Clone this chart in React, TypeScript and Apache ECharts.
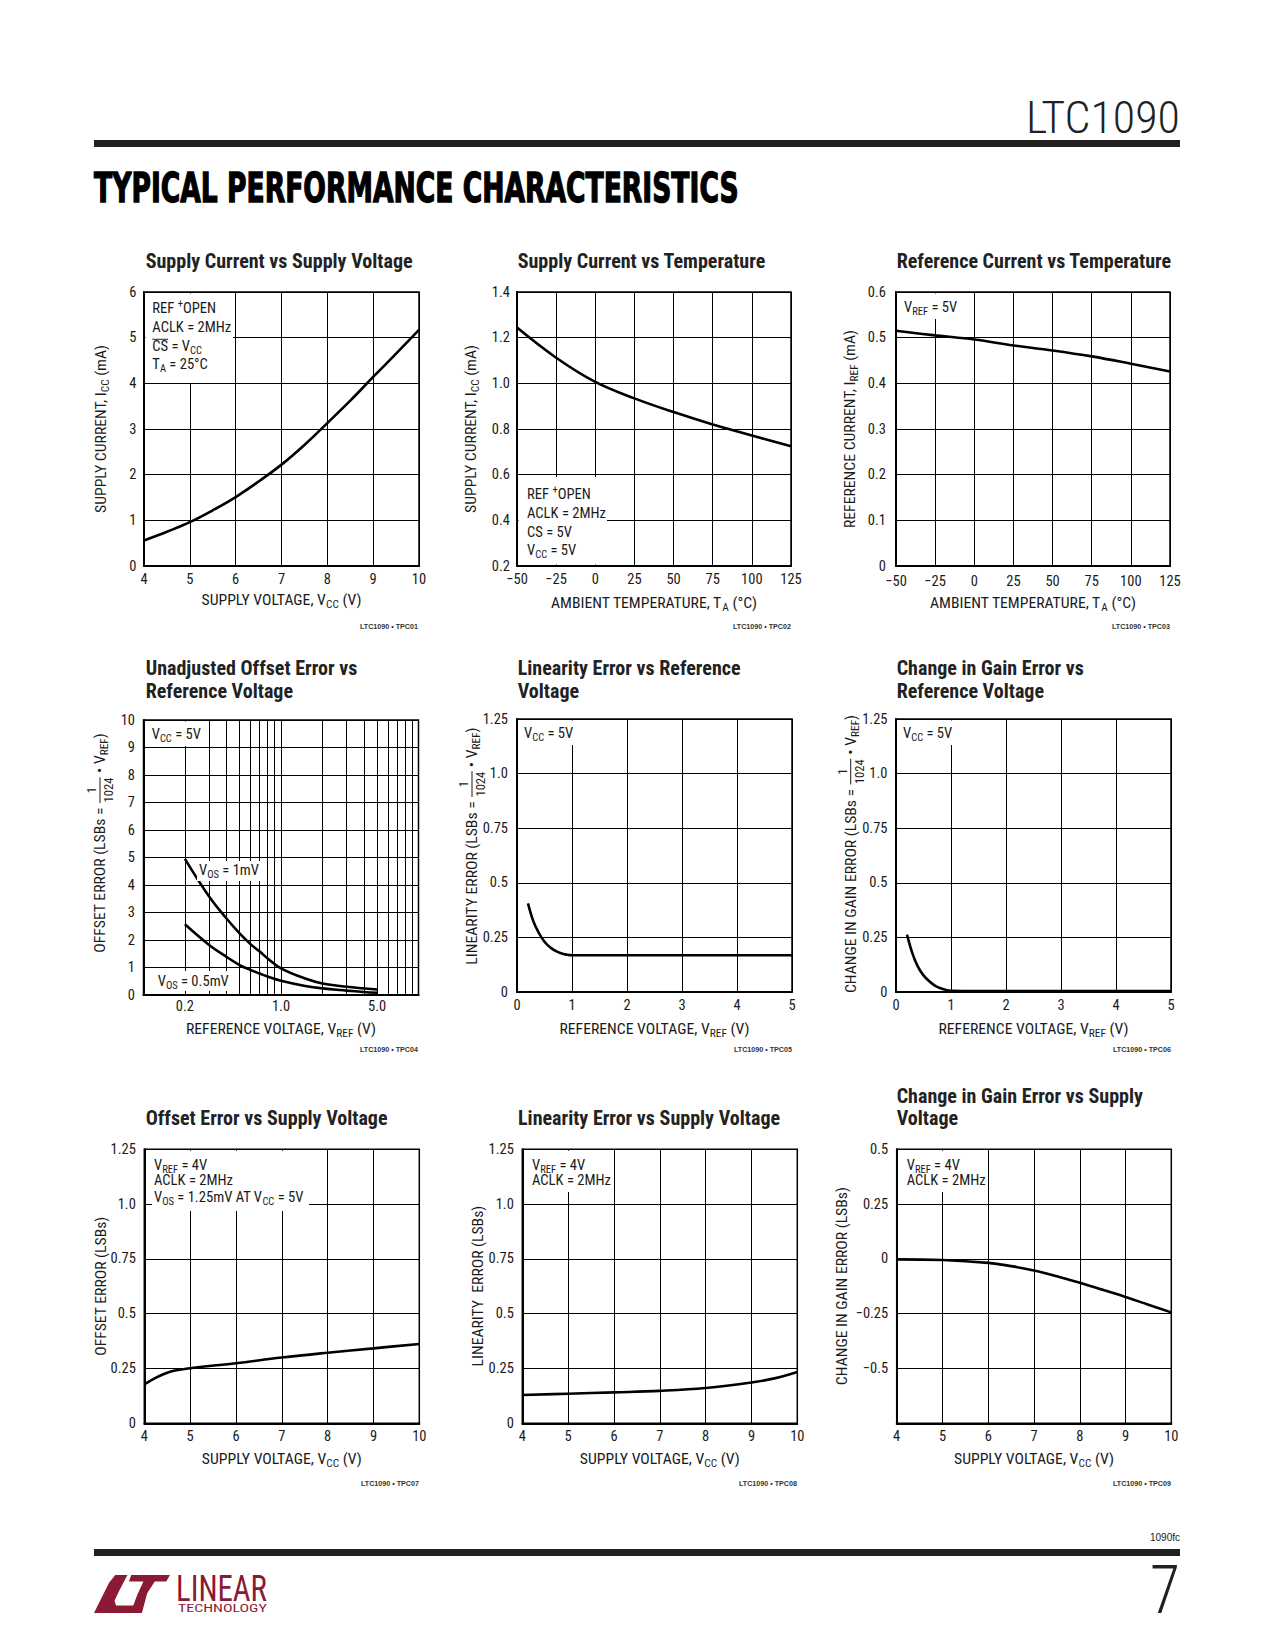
import React, { useEffect, useRef } from 'react';
import * as echarts from 'echarts';

// ===== Data =====
// 1. Supply Current vs Supply Voltage
const sccVoltage = [4, 4.5, 5, 5.5, 6, 6.5, 7, 7.5, 8, 8.5, 9, 9.5, 10];
const sccCurrent = [0.56, 0.75, 0.96, 1.22, 1.51, 1.85, 2.22, 2.65, 3.13, 3.62, 4.14, 4.65, 5.17];
// 2. Supply Current vs Temperature
const sctTemp = [-50, -25, 0, 25, 50, 75, 100, 125];
const sctCurrent = [1.244, 1.112, 1.006, 0.934, 0.874, 0.82, 0.772, 0.724];
// 3. Reference Current vs Temperature
const rctTemp = [-50, -25, 0, 25, 50, 75, 100, 125];
const rctCurrent = [0.515, 0.505, 0.496, 0.483, 0.472, 0.459, 0.443, 0.426];
// 4. Unadjusted Offset Error vs Reference Voltage
const offVref = [0.2, 0.3, 0.4, 0.5, 0.6, 0.7, 0.8, 1, 1.5, 2, 3, 4, 5];
const offErr1mV = [4.95, 3.58, 2.79, 2.24, 1.85, 1.58, 1.33, 0.97, 0.6, 0.42, 0.3, 0.24, 0.2];
const offErr05mV = [2.57, 1.82, 1.39, 1.09, 0.91, 0.78, 0.67, 0.52, 0.33, 0.24, 0.16, 0.11, 0.08];
const offLogGrid = [0.2, 0.3, 0.4, 0.5, 0.6, 0.7, 0.8, 0.9, 2, 3, 4, 5, 6, 7, 8, 9];
const offLogTicks = [0.2, 1, 5];
const offLogTickLabels = ['0.2', '1.0', '5.0'];
// 5. Linearity Error vs Reference Voltage
const linVref = [0.2, 0.3, 0.4, 0.5, 0.6, 0.7, 0.8, 0.9, 1, 2, 3, 4, 5];
const linErr = [0.406, 0.322, 0.269, 0.23, 0.205, 0.188, 0.177, 0.171, 0.168, 0.168, 0.168, 0.168, 0.168];
// 6. Change in Gain Error vs Reference Voltage
const gainVref = [0.2, 0.3, 0.4, 0.5, 0.6, 0.7, 0.8, 0.9, 1, 2, 3, 4, 5];
const gainErr = [0.263, 0.176, 0.115, 0.076, 0.05, 0.03, 0.018, 0.01, 0.006, 0.004, 0.004, 0.004, 0.004];
// 7. Offset Error vs Supply Voltage
const offVcc = [4, 4.5, 5, 6, 7, 8, 9, 10];
const offVccErr = [0.178, 0.231, 0.251, 0.274, 0.3, 0.322, 0.342, 0.362];
// 8. Linearity Error vs Supply Voltage
const linVcc = [4, 5, 6, 7, 8, 9, 9.5, 10];
const linVccErr = [0.129, 0.135, 0.141, 0.148, 0.161, 0.186, 0.205, 0.234];
// 9. Change in Gain Error vs Supply Voltage
const gainVcc = [4, 5, 6, 6.5, 7, 7.5, 8, 8.5, 9, 9.5, 10];
const gainVccErr = [-0.002, -0.005, -0.018, -0.033, -0.053, -0.079, -0.109, -0.141, -0.174, -0.209, -0.244];

const zip = (xs: number[], ys: number[]) => xs.map((x, i) => [x, ys[i]]);

// ===== Layout =====
const GRIDS = [
  { l: 144, t: 292, w: 275, h: 274 },
  { l: 517, t: 292, w: 274, h: 274 },
  { l: 896, t: 292, w: 274, h: 274 },
  { l: 143.5, t: 720, w: 275, h: 275 },
  { l: 517, t: 719, w: 275, h: 273 },
  { l: 896, t: 719, w: 275, h: 273 },
  { l: 144.3, t: 1149.3, w: 275, h: 274 },
  { l: 522.3, t: 1149.3, w: 275, h: 274 },
  { l: 896.7, t: 1149.3, w: 274.6, h: 274 },
];
const Y_LABEL_MARGIN = [7.5, 7, 10, 8.5, 9, 8.5, 8.5, 8.5, 8.5];
const X_LABEL_MARGIN = [7, 7, 8.5, 7, 7, 7, 7, 7, 7];

type Seg = { t: string; k?: 'sub' | 'sup' | 'over' | 'frac'; d?: string };

function buildOption() {
  const cv = document.createElement('canvas').getContext('2d') as CanvasRenderingContext2D;
  const has = (name: string) => {
    const s = 'abcdefghijklmnopqrstuvwxyzABCDEFGHIJ0123456789';
    cv.font = '40px monospace';
    const a = cv.measureText(s).width;
    cv.font = `40px "${name}", monospace`;
    const b = cv.measureText(s).width;
    cv.font = '40px serif';
    const c = cv.measureText(s).width;
    cv.font = `40px "${name}", serif`;
    const d = cv.measureText(s).width;
    return a !== b || c !== d;
  };
  const narrow = ['Liberation Sans Narrow', 'Arial Narrow', 'Roboto Condensed', 'Nimbus Sans Narrow', 'DejaVu Sans Condensed'].find(has);
  const FAM = narrow ? `"${narrow}", "Liberation Sans", Arial, sans-serif` : `"Liberation Sans", Arial, sans-serif`;
  const HEAVY = `"DejaVu Sans", "Liberation Sans", sans-serif`;
  const mw = (t: string, size: number, weight: any, fam: string) => {
    cv.font = `normal ${weight} ${size}px ${fam}`;
    return cv.measureText(t).width;
  };
  const clamp = (v: number) => Math.max(0.55, Math.min(1.25, v));
  const BODY = 15;
  const BSX = clamp(79 / mw('ACLK = 2MHz', BODY, 'normal', FAM));
  const NAME = 15.5;
  const NSX = BSX * 1.04;
  const TSIZE = 19.5;
  const TSX = clamp(267 / mw('Supply Current vs Supply Voltage', TSIZE, 'bold', FAM));
  const INK = '#1a1a1a';

  const txt = (x: number, y: number, segs: Seg[], o: any) => {
    const size = o.size;
    const wt = o.weight ?? 'normal';
    const fam = o.fam ?? FAM;
    const fill = o.fill ?? INK;
    const z = o.z ?? 10;
    const items = segs.map((s) => {
      if (s.k === 'frac') {
        const fs = size * 0.8;
        return { ...s, fs, w: Math.max(mw(s.t, fs, wt, fam), mw(s.d || '', fs, wt, fam)) + 2 };
      }
      const fs = s.k === 'sub' || s.k === 'sup' ? size * 0.72 : size;
      return { ...s, fs, w: mw(s.t, fs, wt, fam) };
    });
    const total = items.reduce((a, b) => a + b.w, 0);
    let cx = o.align === 'center' ? -total / 2 : o.align === 'right' ? -total : 0;
    const children: any[] = [];
    const T = (tx: number, ty: number, t: string, fs: number, al = 'left') => ({
      type: 'text', x: tx, y: ty, z, silent: true,
      style: {
        text: t, fontSize: fs, fontFamily: fam, fontWeight: wt, fill, textAlign: al, textVerticalAlign: 'middle', align: al, verticalAlign: 'middle',
        ...(o.stroke ? { stroke: fill, lineWidth: o.stroke } : {}),
      },
    });
    for (const it of items) {
      if (it.k === 'frac') {
        children.push(T(cx + it.w / 2, -size * 0.52, it.t, it.fs, 'center'));
        children.push(T(cx + it.w / 2, size * 0.56, it.d || '', it.fs, 'center'));
        children.push({ type: 'line', z, silent: true, shape: { x1: cx + 0.5, y1: 0, x2: cx + it.w - 0.5, y2: 0 }, style: { stroke: fill, lineWidth: 1 } });
      } else {
        const dy = it.k === 'sub' ? size * 0.32 : it.k === 'sup' ? -size * 0.3 : 0;
        children.push(T(cx, dy, it.t, it.fs));
        if (it.k === 'over') {
          children.push({ type: 'line', z, silent: true, shape: { x1: cx, y1: -size * 0.45, x2: cx + it.w, y2: -size * 0.45 }, style: { stroke: fill, lineWidth: 1 } });
        }
      }
      cx += it.w;
    }
    return { type: 'group', x, y, rotation: o.rot ?? 0, scaleX: o.sx ?? 1, z, children };
  };
  const box = (x1: number, y1: number, x2: number, y2: number) => ({
    type: 'rect', z: 5, silent: true, shape: { x: x1, y: y1, width: x2 - x1, height: y2 - y1 }, style: { fill: '#fff' },
  });
  const body = (x: number, y: number, segs: Seg[]) => txt(x, y, segs, { size: BODY, sx: BSX });
  const S = (t: string): Seg => ({ t });
  const sub = (t: string): Seg => ({ t, k: 'sub' });

  const els: any[] = [];
  // ---- header ----
  els.push(txt(1180, 118, [S('LTC1090')], { size: 44, weight: 300, align: 'right', fill: '#231f20', sx: clamp(154 / mw('LTC1090', 44, 300, FAM)) }));
  els.push({ type: 'rect', z: 10, silent: true, shape: { x: 94, y: 140, width: 1086, height: 7 }, style: { fill: '#231f20' } });
  els.push(txt(94, 188, [S('TYPICAL PERFORMANCE CHARACTERISTICS')], { size: 40, weight: 'bold', fam: HEAVY, fill: '#000', stroke: 1.4, sx: 645 / mw('TYPICAL PERFORMANCE CHARACTERISTICS', 40, 'bold', HEAVY) }));
  // ---- footer ----
  els.push(txt(1180, 1537, [S('1090fc')], { size: 10, align: 'right', fam: `"Liberation Sans", Arial, sans-serif` }));
  els.push({ type: 'rect', z: 10, silent: true, shape: { x: 94, y: 1549, width: 1086, height: 7 }, style: { fill: '#231f20' } });
  els.push(txt(1180, 1591, [S('7')], { size: 66, weight: 300, align: 'right', fill: '#231f20', sx: clamp(30 / mw('7', 66, 300, FAM)) }));
  // logo
  const LR = '#8b1a35';
  const lx = 94, ly = 1575, lw = 76, lh = 38;
  const P = (pts: number[][]) => ({ type: 'polygon', z: 10, silent: true, shape: { points: pts.map(([u, v]) => [lx + u * lw, ly + v * lh]) }, style: { fill: LR } });
  els.push(P([[0.28, 0], [0.44, 0], [0.33, 0.42], [0.27, 0.68], [0.29, 0.8], [0.56, 0.8], [0.52, 1], [0, 1], [0.1, 0.6], [0.2, 0.2]]));
  els.push(P([[0.49, 0], [1, 0], [0.95, 0.17], [0.8, 0.17], [0.7, 0.48], [0.63, 1], [0.48, 1], [0.57, 0.52], [0.65, 0.17], [0.46, 0.17]]));
  els.push(txt(176, 1589, [S('LINEAR')], { size: 36, fill: LR, sx: 91 / mw('LINEAR', 36, 'normal', FAM) }));
  els.push(txt(178, 1608, [S('TECHNOLOGY')], { size: 11.5, fill: LR, sx: 89 / mw('TECHNOLOGY', 11.5, 'normal', FAM) }));

  // ---- chart titles ----
  const title = (x: number, y: number, t: string) => els.push(txt(x, y, [S(t)], { size: TSIZE, weight: 'bold', sx: TSX, fill: '#222' }));
  title(145.7, 262, 'Supply Current vs Supply Voltage');
  title(517.7, 262, 'Supply Current vs Temperature');
  title(896.7, 262, 'Reference Current vs Temperature');
  title(145.7, 669, 'Unadjusted Offset Error vs');
  title(145.7, 692, 'Reference Voltage');
  title(517.7, 669, 'Linearity Error vs Reference');
  title(517.7, 692, 'Voltage');
  title(896.7, 669, 'Change in Gain Error vs');
  title(896.7, 692, 'Reference Voltage');
  title(145.7, 1119, 'Offset Error vs Supply Voltage');
  title(518, 1119, 'Linearity Error vs Supply Voltage');
  title(896.7, 1097, 'Change in Gain Error vs Supply');
  title(896.7, 1119, 'Voltage');

  // ---- footnotes ----
  const FN = `"Liberation Sans", Arial, sans-serif`;
  const fnSx = clamp(58 / mw('LTC1090 • TPC01', 7.5, 'bold', FN));
  const foot = (x: number, y: number, t: string) => els.push(txt(x, y, [S(t)], { size: 7.5, weight: 'bold', fam: FN, align: 'right', sx: fnSx, fill: '#333' }));
  foot(418, 626, 'LTC1090 • TPC01');
  foot(791, 626, 'LTC1090 • TPC02');
  foot(1170, 626, 'LTC1090 • TPC03');
  foot(418, 1049, 'LTC1090 • TPC04');
  foot(792, 1049, 'LTC1090 • TPC05');
  foot(1171, 1049, 'LTC1090 • TPC06');
  foot(419, 1483, 'LTC1090 • TPC07');
  foot(797, 1483, 'LTC1090 • TPC08');
  foot(1171, 1483, 'LTC1090 • TPC09');

  // ---- axis names ----
  const xname = (gi: number, y: number, segs: Seg[]) => {
    const g = GRIDS[gi];
    els.push(txt(g.l + g.w / 2, y, segs, { size: NAME, sx: NSX, align: 'center' }));
  };
  const yname = (x: number, y: number, segs: Seg[]) => els.push(txt(x, y, segs, { size: NAME, sx: NSX, align: 'center', rot: Math.PI / 2 }));
  const vcc = [S('SUPPLY VOLTAGE, V'), sub('CC'), S(' (V)')];
  const temp = [S('AMBIENT TEMPERATURE, T'), sub('A'), S(' (°C)')];
  const vrefN = [S('REFERENCE VOLTAGE, V'), sub('REF'), S(' (V)')];
  xname(0, 600, vcc);
  xname(1, 603, temp);
  xname(2, 603, temp);
  xname(3, 1029, vrefN);
  xname(4, 1029, vrefN);
  xname(5, 1029, vrefN);
  xname(6, 1459, vcc);
  xname(7, 1459, vcc);
  xname(8, 1459, vcc);
  const lsbFrac = (lead: string): Seg[] => [S(lead + ' (LSBs = '), { t: '1', k: 'frac', d: '1024' }, S(' • V'), sub('REF'), S(')')];
  yname(100.7, 429, [S('SUPPLY CURRENT, I'), sub('CC'), S(' (mA)')]);
  yname(470.7, 429, [S('SUPPLY CURRENT, I'), sub('CC'), S(' (mA)')]);
  yname(850, 429, [S('REFERENCE CURRENT, I'), sub('REF'), S(' (mA)')]);
  yname(100, 843, lsbFrac('OFFSET ERROR'));
  yname(472, 846, lsbFrac('LINEARITY ERROR'));
  yname(850.7, 854, lsbFrac('CHANGE IN GAIN ERROR'));
  yname(100.7, 1286, [S('OFFSET ERROR (LSBs)')]);
  yname(478, 1286, [S('LINEARITY  ERROR (LSBs)')]);
  yname(841.7, 1286, [S('CHANGE IN GAIN ERROR (LSBs)')]);

  // ---- annotation boxes ----
  els.push(box(145.5, 293.5, 233, 383));
  els.push(body(152.3, 308, [S('REF '), { t: '+', k: 'sup' }, S('OPEN')]));
  els.push(body(152.3, 327, [S('ACLK = 2MHz')]));
  els.push(body(152.3, 346, [{ t: 'CS', k: 'over' }, S(' = V'), sub('CC')]));
  els.push(body(152.3, 364, [S('T'), sub('A'), S(' = 25°C')]));

  els.push(box(518.5, 477, 607, 564.5));
  els.push(body(527, 494, [S('REF '), { t: '+', k: 'sup' }, S('OPEN')]));
  els.push(body(527, 513, [S('ACLK = 2MHz')]));
  els.push(body(527, 532, [S('CS = 5V')]));
  els.push(body(527, 550, [S('V'), sub('CC'), S(' = 5V')]));

  els.push(box(897.5, 293.5, 973, 319));
  els.push(body(904, 307, [S('V'), sub('REF'), S(' = 5V')]));

  els.push(box(145, 721.5, 205, 746));
  els.push(body(151.7, 734, [S('V'), sub('CC'), S(' = 5V')]));
  const w1 = (mw('V', BODY, 'normal', FAM) + mw('OS', BODY * 0.72, 'normal', FAM) + mw(' = 1mV', BODY, 'normal', FAM)) * BSX;
  els.push(box(197, 861, 199 + w1 + 3, 881));
  els.push(body(199, 870, [S('V'), sub('OS'), S(' = 1mV')]));
  const w2 = (mw('V', BODY, 'normal', FAM) + mw('OS', BODY * 0.72, 'normal', FAM) + mw(' = 0.5mV', BODY, 'normal', FAM)) * BSX;
  els.push(box(155.5, 971, 157.7 + w2 + 3, 991));
  els.push(body(157.7, 981, [S('V'), sub('OS'), S(' = 0.5mV')]));

  els.push(box(518.5, 720.5, 575, 745));
  els.push(body(524, 733, [S('V'), sub('CC'), S(' = 5V')]));
  els.push(box(897.5, 720.5, 954, 745));
  els.push(body(903, 733, [S('V'), sub('CC'), S(' = 5V')]));

  els.push(box(152, 1150.8, 309, 1211));
  els.push(body(154, 1165, [S('V'), sub('REF'), S(' = 4V')]));
  els.push(body(154, 1180, [S('ACLK = 2MHz')]));
  els.push(body(154, 1197, [S('V'), sub('OS'), S(' = 1.25mV AT V'), sub('CC'), S(' = 5V')]));
  els.push(box(524, 1150.8, 614, 1192));
  els.push(body(532, 1165, [S('V'), sub('REF'), S(' = 4V')]));
  els.push(body(532, 1180, [S('ACLK = 2MHz')]));
  els.push(box(898.5, 1150.8, 988, 1192));
  els.push(body(906.7, 1165, [S('V'), sub('REF'), S(' = 4V')]));
  els.push(body(906.7, 1180, [S('ACLK = 2MHz')]));

  // ---- axes ----
  const TICK = narrow ? 14.5 : 13;
  const lab = { color: INK, fontFamily: FAM, fontSize: TICK, lineHeight: 13 };
  const minus = (v: number, s: string) => (v < 0 ? '\u2212' + s.replace('-', '') : s);
  const fmtQ = (v: number) => {
    if (Math.abs(v) < 1e-9) return '0';
    if (Math.abs(v - 1) < 1e-9) return '1.0';
    if (Math.abs(v - 0.5) < 1e-9) return '0.5';
    return String(+v.toFixed(2));
  };
  const XS = [
    { min: 4, max: 10, interval: 1, f: (v: number) => String(v) },
    { min: -50, max: 125, interval: 25, f: (v: number) => minus(v, String(v)) },
    { min: -50, max: 125, interval: 25, f: (v: number) => minus(v, String(v)) },
    null,
    { min: 0, max: 5, interval: 1, f: (v: number) => String(v) },
    { min: 0, max: 5, interval: 1, f: (v: number) => String(v) },
    { min: 4, max: 10, interval: 1, f: (v: number) => String(v) },
    { min: 4, max: 10, interval: 1, f: (v: number) => String(v) },
    { min: 4, max: 10, interval: 1, f: (v: number) => String(v) },
  ];
  const YS = [
    { min: 0, max: 6, interval: 1, f: (v: number) => String(v) },
    { min: 0.2, max: 1.4, interval: 0.2, f: (v: number) => v.toFixed(1) },
    { min: 0, max: 0.6, interval: 0.1, f: (v: number) => (Math.abs(v) < 1e-9 ? '0' : v.toFixed(1)) },
    { min: 0, max: 10, interval: 1, f: (v: number) => String(v) },
    { min: 0, max: 1.25, interval: 0.25, f: fmtQ },
    { min: 0, max: 1.25, interval: 0.25, f: fmtQ },
    { min: 0, max: 1.25, interval: 0.25, f: fmtQ },
    { min: 0, max: 1.25, interval: 0.25, f: fmtQ },
    {
      min: -0.75, max: 0.5, interval: 0.25,
      f: (v: number) => (Math.abs(v + 0.75) < 1e-9 ? '' : Math.abs(v) < 1e-9 ? '0' : minus(v, String(+v.toFixed(2)))),
    },
  ];
  const axLine = { show: true, onZero: false, lineStyle: { color: '#000', width: 2 } };
  const split = { show: true, lineStyle: { color: '#000', width: 1 } };
  const xAxis = XS.map((s, i) =>
    s
      ? { gridIndex: i, type: 'value', min: s.min, max: s.max, interval: s.interval, axisLine: axLine, axisTick: { show: false }, splitLine: split, axisLabel: { ...lab, margin: X_LABEL_MARGIN[i], formatter: s.f } }
      : { gridIndex: i, type: 'log', logBase: 10, min: 0.1, max: 10, axisLine: axLine, axisTick: { show: false }, splitLine: split, axisLabel: { show: false } },
  );
  const yAxis = YS.map((s, i) => ({
    gridIndex: i, type: 'value', min: s.min, max: s.max, interval: s.interval, axisLine: axLine, axisTick: { show: false }, splitLine: split,
    axisLabel: { ...lab, margin: Y_LABEL_MARGIN[i], formatter: s.f },
  }));
  const grid = GRIDS.map((g) => ({
    left: g.l, top: g.t, width: g.w, height: g.h, show: true, borderColor: '#000', borderWidth: 1.5, backgroundColor: 'transparent',
    containLabel: false, outerBoundsMode: 'none',
  }));

  const line = (i: number, data: number[][], extra: any = {}) => ({
    type: 'line', xAxisIndex: i, yAxisIndex: i, data, showSymbol: false, symbol: 'none', silent: true, z: 3,
    smooth: 0.4, lineStyle: { color: '#000', width: 2.6 }, emphasis: { disabled: true }, ...extra,
  });
  const logMarks = [
    ...offLogGrid.map((v) => {
      const k = offLogTicks.indexOf(v);
      return k >= 0
        ? { xAxis: v, label: { show: true, position: 'start', formatter: offLogTickLabels[k], distance: 5, ...lab } }
        : { xAxis: v };
    }),
    { xAxis: 1, label: { show: true, position: 'start', formatter: offLogTickLabels[1], distance: 5, ...lab } },
  ];
  const series = [
    line(0, zip(sccVoltage, sccCurrent)),
    line(1, zip(sctTemp, sctCurrent)),
    line(2, zip(rctTemp, rctCurrent)),
    line(3, zip(offVref, offErr1mV), {
      markLine: {
        silent: true, z: 2, symbol: ['none', 'none'], animation: false, emphasis: { disabled: true },
        lineStyle: { color: '#000', width: 1, type: 'solid' }, label: { show: false }, data: logMarks,
      },
    }),
    line(3, zip(offVref, offErr05mV)),
    line(4, zip(linVref, linErr)),
    line(5, zip(gainVref, gainErr)),
    line(6, zip(offVcc, offVccErr)),
    line(7, zip(linVcc, linVccErr)),
    line(8, zip(gainVcc, gainVccErr)),
  ];

  return {
    animation: false,
    backgroundColor: '#fff',
    grid, xAxis, yAxis, series,
    graphic: { elements: els },
  };
}

export default function App() {
  const ref = useRef<HTMLDivElement>(null);
  useEffect(() => {
    const el = ref.current as HTMLDivElement;
    const chart = echarts.init(el, null, { renderer: 'svg' });
    chart.setOption(buildOption() as any);
    return () => chart.dispose();
  }, []);
  return <div ref={ref} style={{ position: 'absolute', left: 0, top: 0, width: 1275, height: 1650, background: '#fff' }} />;
}
